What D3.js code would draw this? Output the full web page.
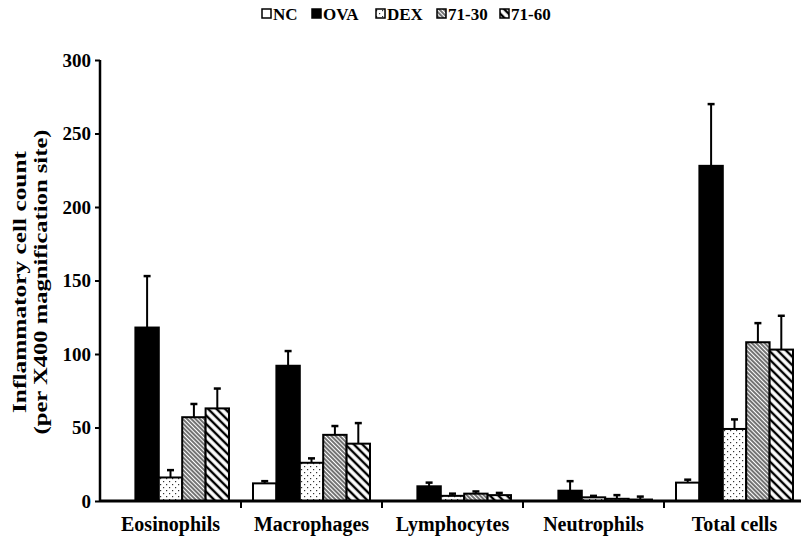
<!DOCTYPE html>
<html><head><meta charset="utf-8">
<script src="https://cdn.jsdelivr.net/npm/d3@7"></script>
<style>body{margin:0;background:#fff}svg{display:block}</style>
</head><body>
<svg id="c" width="801" height="546"></svg>
<script>
const categories = ["Eosinophils","Macrophages","Lymphocytes","Neutrophils","Total cells"];
const series = ["NC","OVA","DEX","71-30","71-60"];
const valNC   = [0, 12, 0, 0, 12.5];
const errNC   = [0, 1.5, 0, 0, 2];
const valOVA  = [118, 92, 10, 7, 228];
const errOVA  = [35, 10, 2.5, 6.5, 42];
const valDEX  = [16, 26, 3.5, 2.5, 49];
const errDEX  = [5, 3, 1.5, 1, 6.5];
const val7130 = [57, 45, 5, 1.5, 108];
const err7130 = [9, 6, 1.5, 2.5, 13];
const val7160 = [63, 39, 4, 1, 103];
const err7160 = [13.5, 14, 1.5, 2, 23];
const yTicks = [0, 50, 100, 150, 200, 250, 300];

const values = [valNC, valOVA, valDEX, val7130, val7160];
const errors = [errNC, errOVA, errDEX, err7130, err7160];
const fills = ["#fff", "#000", "url(#pDot)", "url(#pFine)", "url(#pWide)"];

const svg = d3.select("#c");
const font = "'Liberation Serif','Times New Roman',serif";

const defs = svg.append("defs");
const pd = defs.append("pattern").attr("id","pDot").attr("patternUnits","userSpaceOnUse")
  .attr("width",6).attr("height",6);
pd.append("rect").attr("width",6).attr("height",6).attr("fill","#fff");
pd.append("rect").attr("x",1).attr("y",1).attr("width",1.2).attr("height",1.2).attr("fill","#333");
pd.append("rect").attr("x",4).attr("y",4).attr("width",1.2).attr("height",1.2).attr("fill","#333");
const pf = defs.append("pattern").attr("id","pFine").attr("patternUnits","userSpaceOnUse")
  .attr("width",3).attr("height",3).attr("patternTransform","rotate(-45)");
pf.append("rect").attr("width",3).attr("height",3).attr("fill","#fff");
pf.append("line").attr("x1",1).attr("x2",1).attr("y1",0).attr("y2",3).attr("stroke","#000").attr("stroke-width",1.1);
const pw = defs.append("pattern").attr("id","pWide").attr("patternUnits","userSpaceOnUse")
  .attr("width",6).attr("height",6).attr("patternTransform","rotate(-45)");
pw.append("rect").attr("width",6).attr("height",6).attr("fill","#fff");
pw.append("line").attr("x1",2).attr("x2",2).attr("y1",0).attr("y2",6).attr("stroke","#000").attr("stroke-width",2.4);

const x0 = d3.scaleBand().domain(categories).range([100, 805]).padding(0);
const x1 = d3.scaleBand().domain(series).range([12, 129]).padding(0);
const y = d3.scaleLinear().domain([0, 300]).range([501, 60]);

const g = svg.append("g");
categories.forEach((c, ci) => {
  series.forEach((s, si) => {
    const v = values[si][ci], e = errors[si][ci];
    const bx = x0(c) + x1(s), bw = x1.bandwidth();
    if (e > 0) {
      const cx = bx + bw / 2;
      g.append("line").attr("x1",cx).attr("x2",cx).attr("y1",y(v)).attr("y2",y(v+e))
        .attr("stroke","#000").attr("stroke-width",2);
      g.append("line").attr("x1",cx-3.5).attr("x2",cx+3.5).attr("y1",y(v+e)).attr("y2",y(v+e))
        .attr("stroke","#000").attr("stroke-width",2.5);
    }
    if (v > 0) {
      g.append("rect").attr("x",bx).attr("y",y(v)).attr("width",bw).attr("height",y(0)-y(v))
        .attr("fill",fills[si]).attr("stroke","#000").attr("stroke-width",2);
    }
  });
});

const ya = svg.append("g").attr("transform","translate(100,0)")
  .call(d3.axisLeft(y).tickValues(yTicks).tickSize(5).tickPadding(4).tickFormat(d3.format("d")));
ya.select(".domain").attr("stroke","#000").attr("stroke-width",2.5).attr("d","M0,60V501");
ya.selectAll(".tick line").attr("stroke","#000").attr("stroke-width",2);
ya.selectAll(".tick text").attr("font-family",font).attr("font-weight","bold").attr("font-size",19).attr("fill","#000");

const xa = svg.append("g").attr("transform","translate(0,501)")
  .call(d3.axisBottom(x0).tickSize(0).tickPadding(16));
xa.select(".domain").attr("stroke","#000").attr("stroke-width",3).attr("d","M100,0H801");
xa.selectAll(".tick text").attr("font-family",font).attr("font-weight","bold").attr("font-size",20).attr("fill","#000");
categories.slice(1).forEach(c => {
  xa.append("line").attr("x1",x0(c)).attr("x2",x0(c)).attr("y1",0).attr("y2",7)
    .attr("stroke","#000").attr("stroke-width",2);
});

const yt = svg.append("text").attr("transform","translate(26,282) rotate(-90)")
  .attr("text-anchor","middle").attr("font-family",font).attr("font-weight","bold")
  .attr("font-size",18).attr("fill","#000");
yt.append("tspan").attr("x",0).attr("y",0).attr("textLength",262).attr("lengthAdjust","spacingAndGlyphs").text("Inflammatory  cell count");
yt.append("tspan").attr("x",0).attr("y",21).attr("textLength",305).attr("lengthAdjust","spacingAndGlyphs").text("(per X400 magnification site)");

const legX = [262, 312, 376, 437, 500];
const lg = svg.append("g");
series.forEach((s, si) => {
  lg.append("rect").attr("x",legX[si]).attr("y",9).attr("width",9).attr("height",9)
    .attr("fill",fills[si]).attr("stroke","#000").attr("stroke-width",1.5);
  lg.append("text").attr("x",legX[si]+11).attr("y",20).attr("font-family",font)
    .attr("font-weight","bold").attr("font-size",17).attr("fill","#000").text(s);
});
</script>
</body></html>
